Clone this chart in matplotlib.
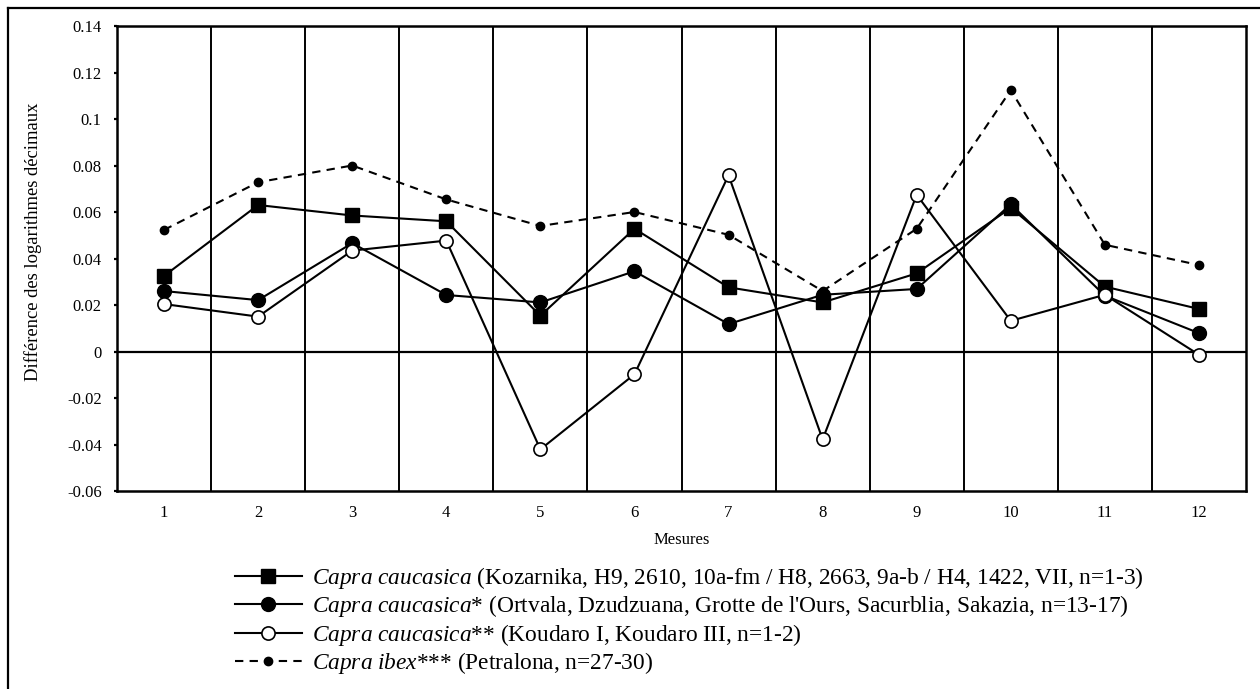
import matplotlib
matplotlib.use("Agg")
import matplotlib.pyplot as plt
from matplotlib.lines import Line2D
import numpy as np

plt.rcParams['font.family'] = ['Liberation Serif', 'DejaVu Serif']
plt.rcParams['mathtext.fontset'] = 'custom'
plt.rcParams['mathtext.rm'] = 'Liberation Serif'
plt.rcParams['mathtext.it'] = 'Liberation Serif:italic'

# Data
mesures = list(range(1, 13))

kozarnika = [0.0325, 0.063, 0.0585, 0.056, 0.0154, 0.0528, 0.0276, 0.0211, 0.0336, 0.0618, 0.0279, 0.0183]
ortvala = [0.026, 0.0221, 0.0466, 0.0243, 0.0211, 0.0345, 0.0118, 0.0244, 0.0269, 0.0633, 0.024, 0.0079]
koudaro = [0.0204, 0.015, 0.0434, 0.0477, -0.0421, -0.0098, 0.0758, -0.0378, 0.0674, 0.0132, 0.0244, -0.0014]
petralona = [0.0523, 0.0728, 0.080, 0.0654, 0.054, 0.060, 0.0502, 0.026, 0.0528, 0.1124, 0.0459, 0.0372]

labels = [
    r"$\mathit{Capra\ caucasica}$ (Kozarnika, H9, 2610, 10a-fm / H8, 2663, 9a-b / H4, 1422, VII, n=1-3)",
    r"$\mathit{Capra\ caucasica}$* (Ortvala, Dzudzuana, Grotte de l'Ours, Sacurblia, Sakazia, n=13-17)",
    r"$\mathit{Capra\ caucasica}$** (Koudaro I, Koudaro III, n=1-2)",
    r"$\mathit{Capra\ ibex}$*** (Petralona, n=27-30)",
]

yticks = [-0.06, -0.04, -0.02, 0, 0.02, 0.04, 0.06, 0.08, 0.1, 0.12, 0.14]
ytick_labels = ["-0.06", "-0.04", "-0.02", "0", "0.02", "0.04", "0.06", "0.08", "0.1", "0.12", "0.14"]

fig = plt.figure(figsize=(12.6, 6.89), dpi=100)
ax = fig.add_axes([117 / 1260, 1 - 491 / 689, (1246 - 117) / 1260, (491 - 26) / 689])

# grid between categories and zero line
for b in np.arange(1.5, 12, 1):
    ax.axvline(b, color='black', lw=1.4, zorder=1)
ax.axhline(0, color='black', lw=1.6, zorder=1)

x = np.array(mesures)
ax.plot(x, kozarnika, color='black', lw=1.5, marker='s', ms=10.5, mfc='black', mec='black',
        label=labels[0], zorder=4)
ax.plot(x, ortvala, color='black', lw=1.5, marker='o', ms=10, mfc='black', mec='black',
        label=labels[1], zorder=3)
ax.plot(x, koudaro, color='black', lw=1.5, marker='o', ms=9.5, mfc='white', mec='black', mew=1.2,
        label=labels[2], zorder=5)
ax.plot(x, petralona, color='black', lw=1.5, ls=(0, (4, 3)), marker='o', ms=6, mfc='black', mec='black',
        label=labels[3], zorder=2)

ax.set_xlim(0.5, 12.5)
ax.set_ylim(-0.06, 0.14)
ax.set_xticks(x)
ax.set_xticklabels([str(m) for m in mesures], fontsize=12)
ax.tick_params(axis='x', length=0, pad=10)
ax.set_yticks(yticks)
ax.set_yticklabels(ytick_labels, fontsize=12)
ax.tick_params(axis='y', length=2.5, width=1.6, direction='out', pad=8.5)
for s in ax.spines.values():
    s.set_linewidth(1.8)

ax.set_xlabel("Mesures", fontsize=12, labelpad=8)
ax.set_ylabel("Différence des logarithmes décimaux", fontsize=13.4)
ax.yaxis.set_label_coords((42 - 117) / 1129, (491 - 242) / 465)

ax.legend(loc='upper left', bbox_to_anchor=(235 / 1260, 1 - 565 / 689), bbox_transform=fig.transFigure,
          frameon=False, fontsize=16.8, handlelength=2.85, handletextpad=0.43, labelspacing=0.1,
          borderpad=0, borderaxespad=0)

# outer frame (top and left edges)
fig.add_artist(Line2D([8 / 1260, 8 / 1260], [0, 1 - 8 / 689], transform=fig.transFigure, color='black', lw=1.6))
fig.add_artist(Line2D([8 / 1260, 1], [1 - 8 / 689, 1 - 8 / 689], transform=fig.transFigure, color='black', lw=1.6))

fig.savefig("out.png", dpi=100)
